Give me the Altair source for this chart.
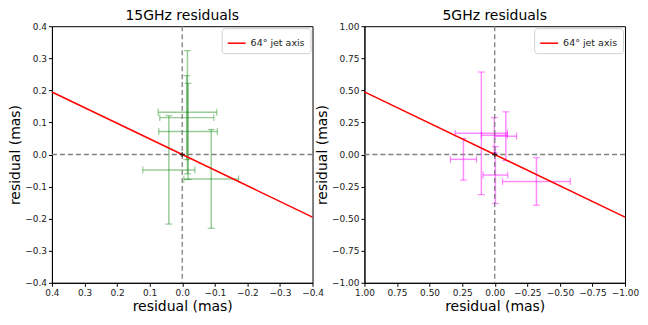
import altair as alt
import pandas as pd

# ---- data ----
# 15 GHz residuals (mas)
g15_x = [-0.016, -0.014, -0.018, 0.041, -0.089]
g15_y = [0.132, 0.115, 0.072, -0.048, -0.076]
g15_xerr = [0.090, 0.083, 0.090, 0.080, 0.084]
g15_yerr = [0.192, 0.131, 0.150, 0.169, 0.154]

# 5 GHz residuals (mas)
m5_x = [0.1025, 0.24, 0.003, -0.005, -0.085, -0.32]
m5_y = [0.165, -0.0375, 0.15, -0.16, 0.1425, -0.21]
m5_xerr = [0.20, 0.10, 0.10, 0.095, 0.0825, 0.26]
m5_yerr = [0.478, 0.1625, 0.138, 0.222, 0.19, 0.185]

# jet-axis line end points
jet15_x = [0.4, -0.4]
jet15_y = [0.195, -0.195]
jet5_x = [1.0, -1.0]
jet5_y = [0.488, -0.488]

jet_label = "64° jet axis"
ticks15 = [0.4, 0.3, 0.2, 0.1, 0.0, -0.1, -0.2, -0.3, -0.4]
ticks5 = [1.0, 0.75, 0.5, 0.25, 0.0, -0.25, -0.5, -0.75, -1.0]

FONT = "DejaVu Sans"
W, H = 261, 257


def make_panel(xs, ys, xe, ye, color, opacity, dom, ticks, fmt, jx, jy, title):
    df = pd.DataFrame({"x": xs, "y": ys, "xe": xe, "ye": ye})
    xsc = alt.Scale(domain=dom, reverse=True, nice=False, zero=False)
    ysc = alt.Scale(domain=dom, nice=False, zero=False)
    xax = alt.Axis(values=ticks, format=fmt, title="residual (mas)", grid=False,
                   labelOverlap=False, tickCount=len(ticks))
    yax = alt.Axis(values=ticks, format=fmt, title="residual (mas)", grid=False,
                   labelOverlap=False, tickCount=len(ticks))

    def X(f):
        return alt.X(f, scale=xsc, axis=xax)

    def Y(f):
        return alt.Y(f, scale=ysc, axis=yax)

    base = alt.Chart(df).transform_calculate(
        xlo="datum.x - datum.xe", xhi="datum.x + datum.xe",
        ylo="datum.y - datum.ye", yhi="datum.y + datum.ye",
    )
    hbar = base.mark_rule(color=color, opacity=opacity, strokeWidth=1.5).encode(
        x=X("xlo:Q"), x2="xhi:Q", y=Y("y:Q"),
    )
    vbar = base.mark_rule(color=color, opacity=opacity, strokeWidth=1.5).encode(
        x=X("x:Q"), y=Y("ylo:Q"), y2="yhi:Q"
    )
    cap_kw = dict(color=color, opacity=opacity, thickness=1.2, size=7)
    cap1 = base.mark_tick(orient="vertical", **cap_kw).encode(x=X("xlo:Q"), y=Y("y:Q"))
    cap2 = base.mark_tick(orient="vertical", **cap_kw).encode(x=X("xhi:Q"), y=Y("y:Q"))
    cap3 = base.mark_tick(orient="horizontal", **cap_kw).encode(x=X("x:Q"), y=Y("ylo:Q"))
    cap4 = base.mark_tick(orient="horizontal", **cap_kw).encode(x=X("x:Q"), y=Y("yhi:Q"))

    zero = alt.Chart(pd.DataFrame({"z": [0.0]}))
    vz = zero.mark_rule(color="gray", strokeDash=[5, 3], strokeWidth=1.3).encode(x=X("z:Q"))
    hz = zero.mark_rule(color="gray", strokeDash=[5, 3], strokeWidth=1.3).encode(y=Y("z:Q"))

    ldf = pd.DataFrame({"x": jx, "y": jy, "lab": [jet_label] * len(jx)})
    line = alt.Chart(ldf).mark_line(strokeWidth=1.5).encode(
        x=X("x:Q"), y=Y("y:Q"),
        color=alt.Color("lab:N", scale=alt.Scale(domain=[jet_label], range=["red"]),
                        legend=alt.Legend(title=None)),
    )
    origin = zero.mark_point(shape="M-1,0H1M0,-1V1", size=25, color="black",
                             filled=False, strokeWidth=1.3).encode(x=X("z:Q"), y=Y("z:Q"))

    return alt.layer(hbar, vbar, cap1, cap2, cap3, cap4, vz, hz, line, origin).properties(
        width=W, height=H,
        title=alt.TitleParams(title, fontSize=14, fontWeight="normal", font=FONT,
                              offset=-1, color="black"),
    )


left = make_panel(g15_x, g15_y, g15_xerr, g15_yerr, "green", 0.4, [-0.4, 0.4],
                  ticks15, ".1f", jet15_x, jet15_y, "15GHz residuals")
right = make_panel(m5_x, m5_y, m5_xerr, m5_yerr, "magenta", 0.45, [-1.0, 1.0],
                   ticks5, ".2f", jet5_x, jet5_y, "5GHz residuals")

chart = alt.hconcat(left, right, spacing=52, bounds="flush").resolve_scale(
    x="independent", y="independent", color="independent"
).resolve_legend(color="independent").properties(
    padding={"left": 0, "top": 0, "right": 0, "bottom": 0}
).configure_view(stroke="black", strokeWidth=1).configure_axis(
    labelFont=FONT, titleFont=FONT, labelFontSize=9, titleFontSize=14,
    titleFontWeight="normal", labelColor="#222", titleColor="black",
    domainColor="black", tickColor="black", tickSize=3.5, labelPadding=2,
    titlePadding=2, labelFlush=False,
).configure_legend(
    orient="top-right", offset=2, padding=5, fillColor="white", strokeColor="#d0d0d0",
    cornerRadius=3, symbolType="stroke", symbolStrokeWidth=1.5, symbolSize=320,
    labelFont=FONT, labelFontSize=9.5, labelColor="#222", rowPadding=2,
)

chart.save("out.html", embed_options={"renderer": "svg", "actions": False})
